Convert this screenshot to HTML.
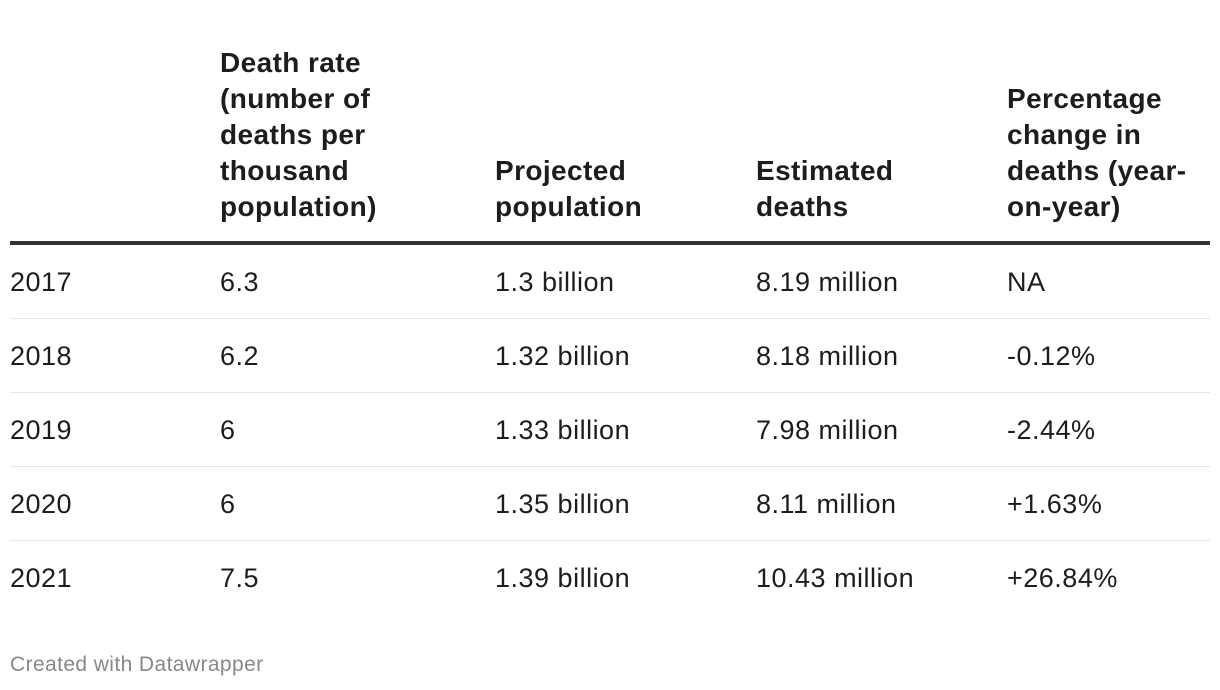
<!DOCTYPE html>
<html><head><meta charset="utf-8"><style>
body{margin:0;width:1220px;height:690px;background:#fff;font-family:"Liberation Sans",sans-serif;color:#1d1d1d;position:relative;overflow:hidden}
.h{position:absolute;font-weight:bold;font-size:28px;letter-spacing:0.4px;line-height:36px;color:#1d1d1d}
.c{position:absolute;font-size:27px;letter-spacing:0.5px;line-height:30px;color:#1d1d1d}
.sep{position:absolute;left:10px;width:1200px;height:1px;background:#e6e6e6}
</style></head><body>
<div>
<div class="h" style="left:220px;top:45px">Death rate<br>(number of<br>deaths per<br>thousand<br>population)</div>
<div class="h" style="left:495px;top:153px">Projected<br>population</div>
<div class="h" style="left:756px;top:153px">Estimated<br>deaths</div>
<div class="h" style="left:1007px;top:81px">Percentage<br>change in<br>deaths (year-<br>on-year)</div>
<div style="position:absolute;left:10px;top:241px;width:1200px;height:4px;background:#333"></div>
<div id="rows"></div>
</div>
<div style="position:absolute;left:10px;top:653px;font-size:21px;letter-spacing:0.4px;color:#888">Created with Datawrapper</div>
<script>
const years=["2017","2018","2019","2020","2021"];
const rates=["6.3","6.2","6","6","7.5"];
const pops=["1.3 billion","1.32 billion","1.33 billion","1.35 billion","1.39 billion"];
const deaths=["8.19 million","8.18 million","7.98 million","8.11 million","10.43 million"];
const changes=["NA","-0.12%","-2.44%","+1.63%","+26.84%"];
const cols=[10,220,495,756,1007];
const rows=document.getElementById('rows');
years.forEach((y,i)=>{
  const vals=[y,rates[i],pops[i],deaths[i],changes[i]];
  const top=267+i*74;
  vals.forEach((v,j)=>{
    const d=document.createElement('div');
    d.className='c';
    
    
    d.style.left=cols[j]+'px';d.style.top=top+'px';
    d.textContent=v;rows.appendChild(d);
  });
  if(i<years.length-1){
    const s=document.createElement('div');
    s.className='sep';
    
    
    s.style.top=(318+i*74)+'px';rows.appendChild(s);
  }
});
</script>
</body></html>
